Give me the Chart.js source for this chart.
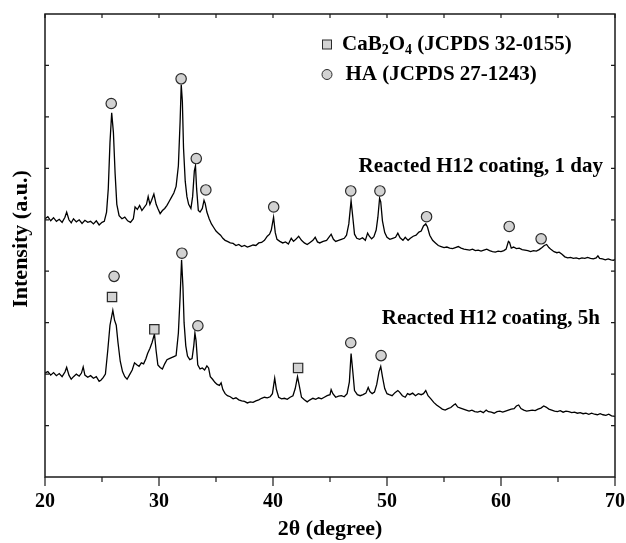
<!DOCTYPE html>
<html><head><meta charset="utf-8">
<script src="https://cdn.jsdelivr.net/npm/chart.js@4"></script>
<style>html,body{margin:0;padding:0;background:#fff}#wrap{width:626px;height:543px}</style>
</head><body><div id="wrap"><canvas id="c" width="626" height="543"></canvas></div>
<script>
// ---- Data (intensity in tick-interval units, 0..9) ----
const theta1day = [20.0,20.25,20.5,20.75,21.0,21.25,21.5,21.75,21.9,22.1,22.3,22.5,22.75,23.0,23.25,23.5,23.75,24.0,24.25,24.5,24.75,25.0,25.2,25.4,25.55,25.7,25.85,26.0,26.15,26.3,26.5,26.75,27.0,27.25,27.5,27.75,27.9,28.1,28.3,28.5,28.7,28.9,29.05,29.2,29.35,29.55,29.75,29.9,30.1,30.3,30.5,30.7,30.9,31.1,31.3,31.5,31.7,31.85,31.95,32.05,32.15,32.3,32.45,32.6,32.8,32.95,33.1,33.2,33.3,33.45,33.6,33.8,33.95,34.05,34.2,34.4,34.6,34.8,35.0,35.2,35.4,35.6,35.8,36.0,36.25,36.5,36.75,37.0,37.25,37.5,37.75,38.0,38.25,38.5,38.75,39.0,39.25,39.5,39.7,39.85,40.05,40.2,40.35,40.6,40.85,41.1,41.35,41.6,41.8,42.0,42.25,42.5,42.75,43.0,43.25,43.5,43.7,43.9,44.1,44.4,44.7,44.9,45.1,45.3,45.5,45.75,46.0,46.25,46.45,46.65,46.85,47.0,47.15,47.35,47.6,47.85,48.1,48.3,48.45,48.65,48.85,49.05,49.2,49.35,49.45,49.6,49.8,50.0,50.25,50.5,50.75,50.95,51.15,51.4,51.6,51.85,52.05,52.3,52.55,52.8,53.0,53.2,53.4,53.55,53.75,54.0,54.25,54.5,54.75,55.0,55.25,55.5,55.75,56.0,56.25,56.5,56.75,57.0,57.25,57.5,57.75,58.0,58.25,58.5,58.75,59.0,59.25,59.5,59.75,60.0,60.25,60.45,60.65,60.75,60.9,61.1,61.35,61.6,61.85,62.1,62.35,62.6,62.85,63.1,63.35,63.6,63.8,64.0,64.2,64.4,64.65,64.9,65.1,65.35,65.6,65.85,66.1,66.35,66.6,66.85,67.1,67.35,67.6,67.85,68.1,68.35,68.5,68.65,68.9,69.15,69.4,69.65,69.85,70.0];
const int1day = [5.02,5.06,4.98,5.04,4.97,5.01,4.95,5.05,5.15,5.00,4.94,5.02,4.96,5.00,4.93,4.99,4.95,4.97,4.92,4.98,4.90,4.95,4.97,5.15,5.60,6.50,7.08,6.70,5.90,5.30,5.08,5.02,5.05,4.98,4.95,5.02,5.25,5.20,5.28,5.18,5.24,5.30,5.45,5.30,5.38,5.50,5.30,5.22,5.12,5.18,5.22,5.28,5.36,5.44,5.52,5.65,6.05,6.90,7.63,7.30,6.40,5.75,5.45,5.30,5.22,5.45,5.95,6.05,5.60,5.18,5.15,5.22,5.38,5.32,5.15,5.02,4.92,4.85,4.78,4.74,4.70,4.64,4.60,4.58,4.55,4.54,4.50,4.52,4.48,4.50,4.47,4.49,4.51,4.50,4.55,4.56,4.60,4.68,4.72,4.80,5.05,4.75,4.62,4.58,4.55,4.57,4.53,4.64,4.58,4.62,4.68,4.60,4.55,4.52,4.56,4.60,4.66,4.57,4.55,4.58,4.60,4.66,4.72,4.62,4.58,4.60,4.62,4.64,4.70,4.92,5.37,5.05,4.72,4.64,4.62,4.65,4.60,4.74,4.68,4.63,4.67,4.80,5.05,5.42,5.35,4.98,4.75,4.66,4.62,4.64,4.66,4.74,4.65,4.60,4.66,4.60,4.64,4.68,4.70,4.76,4.78,4.88,4.92,4.86,4.70,4.60,4.55,4.50,4.48,4.46,4.47,4.45,4.44,4.46,4.48,4.45,4.43,4.42,4.41,4.43,4.40,4.41,4.39,4.41,4.43,4.40,4.38,4.37,4.39,4.38,4.40,4.43,4.58,4.56,4.45,4.47,4.44,4.45,4.42,4.41,4.40,4.38,4.40,4.39,4.42,4.46,4.50,4.52,4.46,4.42,4.38,4.36,4.37,4.33,4.28,4.26,4.27,4.25,4.26,4.24,4.26,4.25,4.27,4.25,4.24,4.26,4.30,4.25,4.24,4.22,4.24,4.22,4.21,4.23];

const theta5h = [20.0,20.25,20.5,20.75,21.0,21.25,21.5,21.75,21.9,22.1,22.3,22.5,22.75,23.0,23.2,23.35,23.5,23.75,24.0,24.25,24.5,24.75,24.9,25.1,25.3,25.5,25.7,25.95,26.1,26.25,26.4,26.6,26.8,27.0,27.2,27.4,27.65,27.85,28.05,28.25,28.45,28.65,28.85,29.0,29.2,29.4,29.6,29.75,29.9,30.1,30.3,30.5,30.7,30.9,31.1,31.3,31.5,31.7,31.85,31.98,32.1,32.2,32.35,32.5,32.7,32.9,33.05,33.15,33.25,33.4,33.6,33.8,34.0,34.2,34.35,34.5,34.7,34.9,35.1,35.3,35.45,35.6,35.8,36.0,36.25,36.5,36.75,37.0,37.25,37.5,37.75,38.0,38.25,38.5,38.75,39.0,39.25,39.5,39.75,39.95,40.15,40.3,40.5,40.75,41.0,41.25,41.5,41.75,41.95,42.15,42.3,42.5,42.75,43.0,43.25,43.5,43.75,44.0,44.25,44.5,44.75,45.0,45.1,45.25,45.5,45.75,46.0,46.25,46.5,46.7,46.85,47.0,47.15,47.4,47.65,47.9,48.15,48.35,48.5,48.7,48.9,49.1,49.3,49.45,49.6,49.8,50.0,50.2,50.45,50.7,50.95,51.1,51.35,51.6,51.8,52.0,52.25,52.5,52.75,53.0,53.2,53.4,53.6,53.85,54.1,54.35,54.6,54.85,55.1,55.35,55.6,55.85,56.0,56.2,56.45,56.7,56.95,57.2,57.45,57.7,57.95,58.2,58.45,58.7,58.9,59.15,59.4,59.65,59.9,60.15,60.4,60.65,60.9,61.15,61.35,61.55,61.75,62.0,62.25,62.5,62.75,63.0,63.25,63.5,63.75,63.95,64.2,64.45,64.7,64.95,65.2,65.45,65.7,65.95,66.2,66.45,66.7,66.95,67.2,67.45,67.7,67.95,68.2,68.45,68.7,68.95,69.2,69.45,69.7,70.0];
const int5h = [2.02,2.05,1.98,2.03,1.97,2.01,1.95,2.04,2.13,1.98,1.90,1.95,2.00,1.96,2.02,2.14,1.98,1.94,1.97,1.92,1.95,1.86,1.88,1.93,2.00,2.45,2.95,3.24,3.05,2.95,2.62,2.25,2.05,1.95,1.90,1.98,2.08,2.22,2.18,2.15,2.22,2.20,2.30,2.40,2.50,2.62,2.78,2.45,2.18,2.13,2.10,2.20,2.28,2.30,2.32,2.34,2.36,2.80,3.50,4.22,3.70,3.00,2.55,2.35,2.28,2.30,2.55,2.80,2.65,2.18,2.10,2.12,2.08,2.16,2.12,1.95,1.90,1.84,1.80,1.78,1.83,1.70,1.62,1.58,1.56,1.52,1.54,1.50,1.48,1.47,1.44,1.46,1.45,1.48,1.50,1.53,1.55,1.54,1.56,1.62,1.92,1.70,1.55,1.52,1.53,1.51,1.55,1.58,1.72,1.95,1.78,1.55,1.50,1.46,1.50,1.53,1.51,1.54,1.52,1.55,1.58,1.60,1.70,1.62,1.55,1.57,1.58,1.56,1.62,1.85,2.40,2.05,1.68,1.60,1.58,1.60,1.63,1.74,1.66,1.62,1.65,1.80,2.05,2.15,1.95,1.72,1.62,1.60,1.58,1.64,1.68,1.65,1.58,1.55,1.62,1.60,1.63,1.58,1.62,1.60,1.62,1.68,1.58,1.52,1.45,1.40,1.36,1.32,1.30,1.33,1.35,1.40,1.42,1.36,1.34,1.32,1.30,1.28,1.30,1.27,1.26,1.28,1.25,1.30,1.27,1.26,1.24,1.27,1.28,1.26,1.28,1.30,1.32,1.33,1.38,1.40,1.33,1.30,1.28,1.29,1.30,1.29,1.32,1.34,1.38,1.36,1.32,1.30,1.28,1.27,1.29,1.26,1.28,1.27,1.25,1.26,1.24,1.25,1.23,1.24,1.22,1.24,1.22,1.21,1.23,1.21,1.20,1.22,1.19,1.18];

// Phase markers
const haTheta1day = [25.81,31.94,33.27,34.11,40.06,46.82,49.38,53.47,60.72,63.52];
const haY1day     = [7.26,7.74,6.19,5.58,5.25,5.56,5.56,5.06,4.87,4.63];
const haTheta5h   = [26.06,32.01,33.41,46.82,49.48];
const haY5h       = [3.90,4.35,2.94,2.61,2.36];
const cabTheta5h  = [25.88,29.59,42.2];
const cabY5h      = [3.50,2.87,2.12];

const xTicksMajor = [20,30,40,50,60,70];
const xTickLabels = ['20','30','40','50','60','70'];
const xTicksMinor = [25,35,45,55,65];
const yTicks = [1,2,3,4,5,6,7,8];

const legendLabels = ['CaB|2|O|4| (JCPDS 32-0155)', 'HA (JCPDS 27-1243)'];
const curveLabels = ['Reacted H12 coating, 1 day', 'Reacted H12 coating, 5h'];
const yTitle = 'Intensity (a.u.)';
const xTitle = '2θ (degree)';

const FONT = '"Liberation Serif", "Times New Roman", serif';
const MARK_FILL = '#d2d2d2', MARK_EDGE = '#2a2a2a';

const pts = (xs, ys) => xs.map((x, i) => ({x, y: ys[i]}));

const framePlugin = {
  id: 'frame',
  afterDraw(chart) {
    const {ctx, chartArea: a, scales: {x, y}} = chart;
    ctx.save();
    ctx.strokeStyle = '#1a1a1a';
    ctx.lineWidth = 1.5;
    ctx.strokeRect(a.left, a.top, a.right - a.left, a.bottom - a.top);
    ctx.lineWidth = 1.2;
    ctx.beginPath();
    xTicksMajor.forEach(v => { const px = x.getPixelForValue(v); ctx.moveTo(px, a.bottom); ctx.lineTo(px, a.bottom + 9); });
    xTicksMinor.forEach(v => { const px = x.getPixelForValue(v); ctx.moveTo(px, a.bottom); ctx.lineTo(px, a.bottom + 5); });
    xTicksMajor.concat(xTicksMinor).forEach(v => { const px = x.getPixelForValue(v); ctx.moveTo(px, a.top); ctx.lineTo(px, a.top + 4); });
    yTicks.forEach(v => { const py = y.getPixelForValue(v);
      ctx.moveTo(a.left, py); ctx.lineTo(a.left + 4, py);
      ctx.moveTo(a.right, py); ctx.lineTo(a.right - 4, py); });
    ctx.stroke();

    ctx.fillStyle = '#000';
    ctx.textAlign = 'center';
    ctx.textBaseline = 'middle';
    // x tick labels
    ctx.font = 'bold 20px ' + FONT;
    xTicksMajor.forEach((v, i) => ctx.fillText(xTickLabels[i], x.getPixelForValue(v), a.bottom + 25));
    // x title
    ctx.font = 'bold 22px ' + FONT;
    ctx.fillText(xTitle, (a.left + a.right) / 2, 529);
    // y title
    ctx.save();
    ctx.translate(21, 239);
    ctx.rotate(-Math.PI / 2);
    ctx.fillText(yTitle, 0, 0);
    ctx.restore();

    // legend
    const lx = 327, ly1 = 44.5, ly2 = 74.5;
    ctx.fillStyle = MARK_FILL; ctx.strokeStyle = MARK_EDGE; ctx.lineWidth = 1;
    ctx.fillRect(lx - 4.5, ly1 - 4.5, 9, 9); ctx.strokeRect(lx - 4.5, ly1 - 4.5, 9, 9);
    ctx.beginPath(); ctx.arc(lx, ly2, 5, 0, Math.PI * 2); ctx.fill(); ctx.stroke();

    ctx.fillStyle = '#000';
    ctx.textAlign = 'left';
    let cx = 342;
    legendLabels[0].split('|').forEach((part, i) => {
      const sub = i % 2 === 1;
      ctx.font = 'bold ' + (sub ? 14 : 21) + 'px ' + FONT;
      ctx.fillText(part, cx, ly1 + (sub ? 6 : 0));
      cx += ctx.measureText(part).width;
    });
    ctx.font = 'bold 21px ' + FONT;
    ctx.fillText(legendLabels[1], 345.5, ly2);

    ctx.textAlign = 'right';
    ctx.fillText(curveLabels[0], 603, 166.5);
    ctx.fillText(curveLabels[1], 600, 318.5);
    ctx.restore();
  }
};

new Chart(document.getElementById('c'), {
  type: 'scatter',
  data: {
    datasets: [
      {data: pts(haTheta1day, haY1day), pointStyle: 'circle', pointRadius: 5.2, backgroundColor: MARK_FILL, borderColor: MARK_EDGE, borderWidth: 1.2, order: 0},
      {data: pts(haTheta5h, haY5h), pointStyle: 'circle', pointRadius: 5.2, backgroundColor: MARK_FILL, borderColor: MARK_EDGE, borderWidth: 1.2, order: 0},
      {data: pts(cabTheta5h, cabY5h), pointStyle: 'rect', pointRadius: 6.6, backgroundColor: MARK_FILL, borderColor: MARK_EDGE, borderWidth: 1.2, order: 0},
      {data: pts(theta1day, int1day), showLine: true, pointRadius: 0, borderColor: '#000', borderWidth: 1.3, tension: 0, order: 1},
      {data: pts(theta5h, int5h), showLine: true, pointRadius: 0, borderColor: '#000', borderWidth: 1.3, tension: 0, order: 1}
    ]
  },
  options: {
    responsive: false,
    animation: false,
    devicePixelRatio: 1,
    layout: {padding: {top: 14, right: 11, left: 0, bottom: 0}},
    plugins: {legend: {display: false}, tooltip: {enabled: false}},
    scales: {
      x: {
        type: 'linear', min: 20, max: 70,
        grid: {display: false, drawTicks: false},
        border: {display: false},
        ticks: {display: false, stepSize: 10},
        title: {display: false},
        afterFit(s) { s.height = 66; }
      },
      y: {
        min: 0, max: 9,
        grid: {display: false, drawTicks: false},
        border: {display: false},
        ticks: {display: false, stepSize: 1},
        title: {display: false},
        afterFit(s) { s.width = 45; }
      }
    }
  },
  plugins: [framePlugin]
});
</script></body></html>
